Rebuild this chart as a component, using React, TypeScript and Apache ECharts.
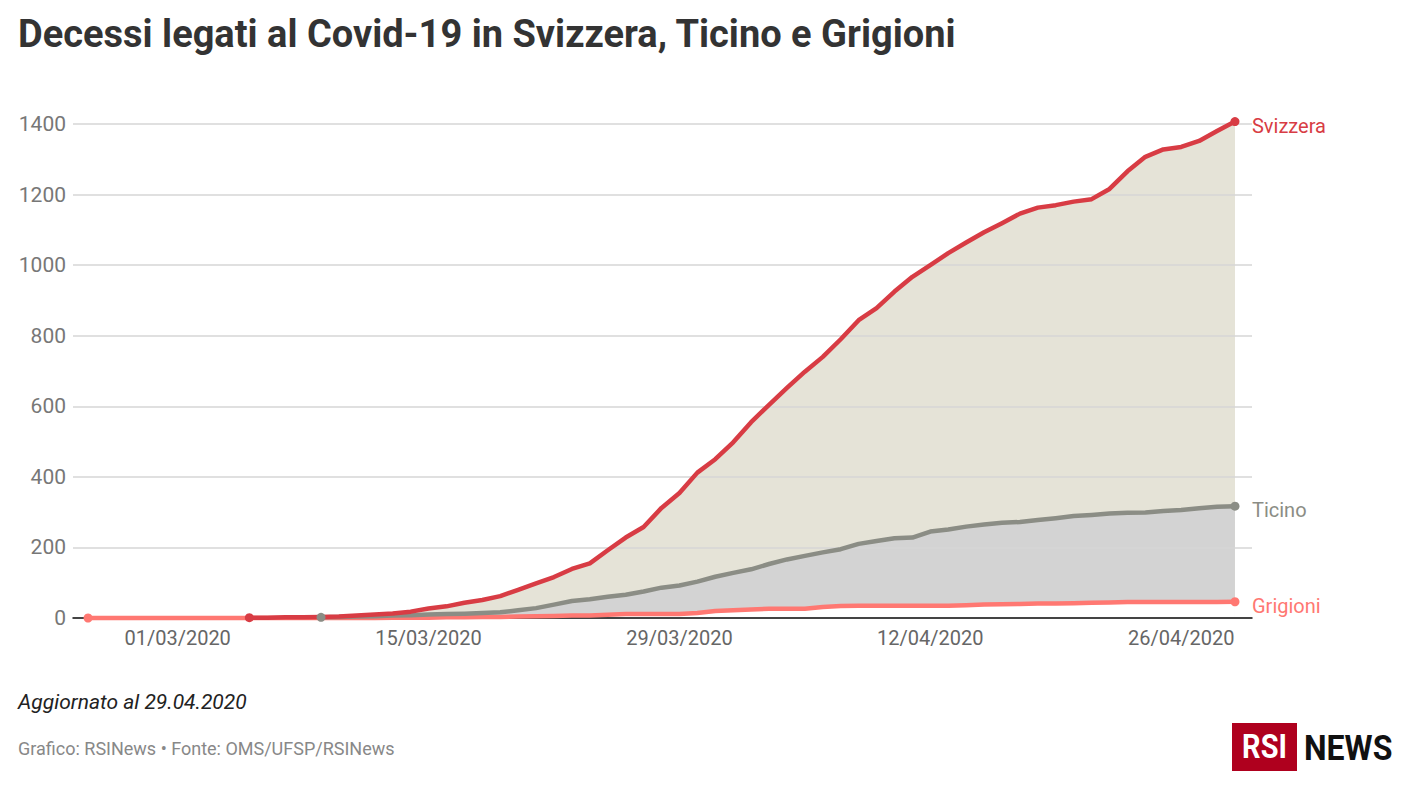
import React, { useEffect, useRef } from "react";
import * as echarts from "echarts";

// Day 0 = 25/02/2020, last day = 29/04/2020 (65 days)
const START_DATE = "2020-02-25";
const DAY_COUNT = 65;
const TICK_LABELS = ["01/03/2020", "15/03/2020", "29/03/2020", "12/04/2020", "26/04/2020"];
const Y_TICKS = [0, 200, 400, 600, 800, 1000, 1200, 1400];

// Svizzera: from 05/03/2020 (day 9)
const SVIZZERA_START = 9;
const svizzera = [
  1, 1, 2, 2, 3, 4, 7, 10, 13, 18, 27, 33, 43, 51, 62, 80, 98, 116, 139, 155,
  192, 228, 258, 312, 354, 412, 450, 498, 555, 604, 652, 698, 740, 790, 844, 878,
  925, 967, 1000, 1034, 1064, 1093, 1119, 1146, 1163, 1170, 1180, 1187, 1216, 1266,
  1307, 1328, 1335, 1352, 1380, 1407,
];

// Ticino: from 09/03/2020 (day 13)
const TICINO_START = 13;
const ticino = [
  2, 3, 4, 5, 7, 8, 10, 11, 12, 14, 16, 22, 28, 38, 48, 53, 60, 66, 75, 86,
  92, 103, 117, 128, 138, 153, 166, 176, 186, 195, 210, 218, 226, 228, 245, 251,
  259, 265, 270, 272, 278, 283, 289, 292, 296, 298, 299, 303, 306, 311, 315, 317,
];

// Grigioni: from 25/02/2020 (day 0)
const GRIGIONI_START = 0;
const grigioni = [
  0, 0, 0, 0, 0, 0, 0, 0, 0, 0, 0, 0, 0, 0, 0, 0, 0, 1, 1, 1,
  2, 2, 3, 3, 4, 5, 6, 7, 7, 9, 11, 11, 11, 11, 14, 20, 22, 24, 26, 26,
  26, 31, 34, 35, 35, 35, 35, 35, 35, 36, 38, 39, 40, 41, 41, 42, 43, 44, 45, 45,
  45, 45, 45, 45, 46,
];

const COLORS = {
  svizzera: "#d83c44",
  ticino: "#8b8d85",
  grigioni: "#ff7872",
  svizzeraFill: "#e5e3d7",
  ticinoFill: "#d3d3d3",
};

function dayLabel(i: number): string {
  const d = new Date(START_DATE + "T12:00:00Z");
  d.setUTCDate(d.getUTCDate() + i);
  const dd = String(d.getUTCDate()).padStart(2, "0");
  const mm = String(d.getUTCMonth() + 1).padStart(2, "0");
  return `${dd}/${mm}/${d.getUTCFullYear()}`;
}

const allDayLabels = Array.from({ length: DAY_COUNT }, (_, i) => dayLabel(i));
const tickIndices = TICK_LABELS.map((t) => allDayLabels.indexOf(t));

function toPoints(values: number[], start: number, withDots: boolean) {
  return values.map((v, k) => {
    const isEnd = k === 0 || k === values.length - 1;
    if (withDots && isEnd) {
      return { value: [start + k, v], symbol: "circle", symbolSize: 9 };
    }
    return { value: [start + k, v], symbol: "none" };
  });
}

export default function App() {
  const ref = useRef<HTMLDivElement>(null);

  useEffect(() => {
    if (!ref.current) return;
    const chart = echarts.init(ref.current, null, { renderer: "svg" });

    const areaSeries = (name: string, values: number[], start: number, color: string) => ({
      name: name + " area",
      type: "line",
      z: 1,
      silent: true,
      symbol: "none",
      clip: false,
      lineStyle: { width: 0, opacity: 0 },
      areaStyle: { color, opacity: 1, origin: "start" },
      data: values.map((v, k) => [start + k, v]),
    });

    const lineSeries = (name: string, values: number[], start: number, color: string) => ({
      name,
      type: "line",
      z: 3,
      symbol: "none",
      showSymbol: true,
      showAllSymbol: true,
      clip: false,
      itemStyle: { color },
      lineStyle: { color, width: 4.5, join: "round", cap: "round" },
      data: toPoints(values, start, true),
      endLabel: {
        show: true,
        formatter: "{a}",
        color,
        fontSize: 20,
        fontFamily: "Roboto",
        distance: 17,
        offset: [0, 4],
      },
    });

    chart.setOption({
      animation: false,
      backgroundColor: "#ffffff",
      grid: { left: 73, right: 156, top: 124, bottom: 174, containLabel: false },
      xAxis: {
        type: "value",
        min: -0.84,
        max: 64.95,
        z: 2,
        axisLine: { show: true, onZero: false, lineStyle: { color: "#111111", width: 1.5 } },
        axisTick: { show: false },
        splitLine: { show: false },
        axisLabel: {
          customValues: tickIndices,
          formatter: (v: number) => allDayLabels[Math.round(v)] ?? "",
          color: "#666666",
          fontSize: 20,
          fontFamily: "Roboto",
          margin: 10,
          showMinLabel: true,
          showMaxLabel: true,
        },
      },
      yAxis: {
        type: "value",
        min: Y_TICKS[0],
        max: Y_TICKS[Y_TICKS.length - 1],
        interval: 200,
        z: 2,
        axisLine: { show: false },
        axisTick: { show: false },
        splitLine: { show: true, lineStyle: { color: "#d6d6d6", width: 1.5 } },
        axisLabel: {
          formatter: (v: number) => String(v),
          color: "#777777",
          fontSize: 21,
          fontFamily: "Roboto",
          margin: 7,
        },
      },
      series: [
        areaSeries("Svizzera", svizzera, SVIZZERA_START, COLORS.svizzeraFill),
        areaSeries("Ticino", ticino, TICINO_START, COLORS.ticinoFill),
        areaSeries("Grigioni", grigioni, GRIGIONI_START, "#ffffff"),
        lineSeries("Grigioni", grigioni, GRIGIONI_START, COLORS.grigioni),
        lineSeries("Ticino", ticino, TICINO_START, COLORS.ticino),
        lineSeries("Svizzera", svizzera, SVIZZERA_START, COLORS.svizzera),
      ],
      graphic: [
        {
          type: "text",
          x: 18,
          y: 15,
          scaleX: 1.0,
          style: {
            text: "Decessi legati al Covid-19 in Svizzera, Ticino e Grigioni",
            font: "bold 38px Roboto",
            fill: "#333333",
            textVerticalAlign: "top",
          },
        },
        {
          type: "text",
          x: 18,
          y: 691,
          style: {
            text: "Aggiornato al 29.04.2020",
            font: "italic 21px Roboto",
            fill: "#222222",
            textVerticalAlign: "top",
          },
        },
        {
          type: "text",
          x: 18,
          y: 739,
          style: {
            text: "Grafico: RSINews • Fonte: OMS/UFSP/RSINews",
            font: "18px Roboto",
            fill: "#888888",
            textVerticalAlign: "top",
          },
        },
        {
          type: "rect",
          shape: { x: 1232, y: 723, width: 65, height: 48 },
          style: { fill: "#af001e" },
        },
        {
          type: "text",
          x: 1264.5,
          y: 747,
          scaleX: 0.85,
          style: {
            text: "RSI",
            font: "bold 34px Roboto",
            fill: "#ffffff",
            textAlign: "center",
            textVerticalAlign: "middle",
          },
        },
        {
          type: "text",
          x: 1304,
          y: 747,
          scaleX: 0.89,
          style: {
            text: "NEWS",
            font: "bold 36px Roboto",
            fill: "#111111",
            textVerticalAlign: "middle",
          },
        },
      ],
    });

    return () => chart.dispose();
  }, []);

  return (
    <div
      ref={ref}
      style={{ position: "absolute", left: 0, top: 0, width: 1408, height: 792 }}
    />
  );
}
